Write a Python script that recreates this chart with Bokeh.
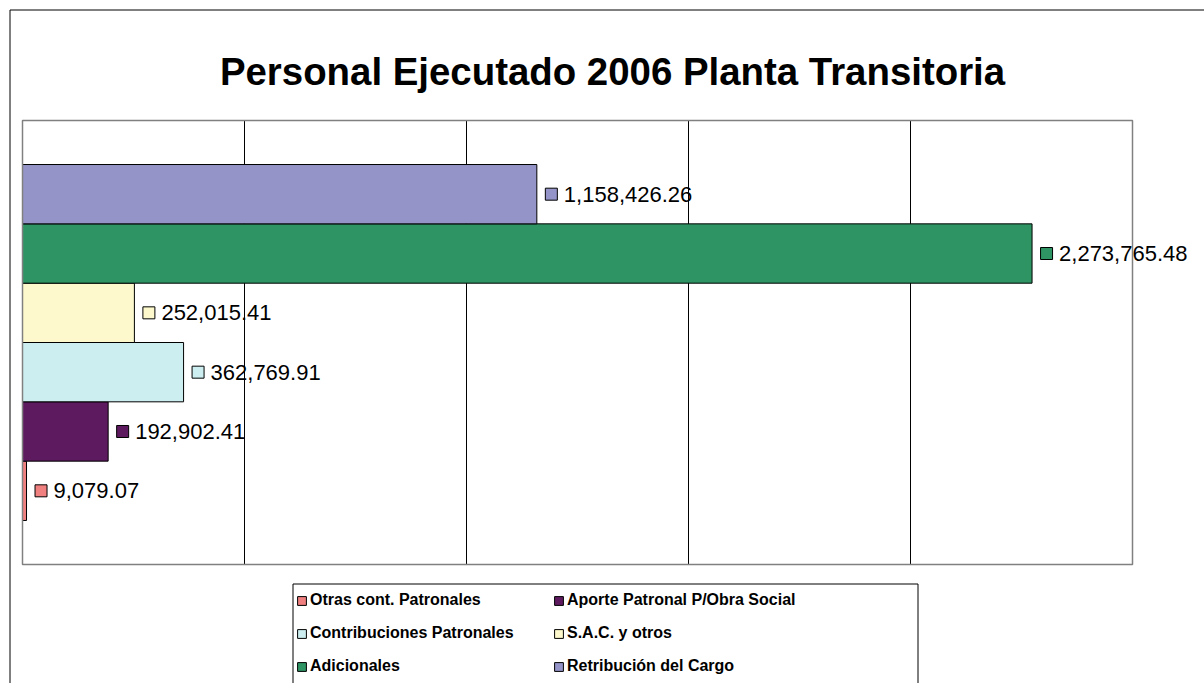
from bokeh.plotting import figure
from bokeh.models import (ColumnDataSource, LabelSet, Label, Legend, LegendItem,
                          BoxAnnotation, Range1d)
from bokeh.core.properties import value
from bokeh.transform import dodge
from bokeh.embed import file_html
from bokeh.resources import INLINE

# ---- data ----
chart_title = "Personal Ejecutado 2006 Planta Transitoria"
series = ["Otras cont. Patronales", "Aporte Patronal P/Obra Social",
          "Contribuciones Patronales", "S.A.C. y otros",
          "Adicionales", "Retribución del Cargo"]
values = [9079.07, 192902.41, 362769.91, 252015.41, 2273765.48, 1158426.26]
colors = ["#F08080", "#5E1A5E", "#CCEEF0", "#FDF9CC", "#2E9464", "#9494C8"]
x_ticks = [0, 500000, 1000000, 1500000, 2000000, 2500000]

labels = [f"{v:,.2f}" for v in values]
positions = list(range(len(series)))

# ---- layout constants (pixels) ----
FONT = "Liberation Sans"
W, H = 1204, 683
PLOT_L, PLOT_R, PLOT_T, PLOT_B = 22, 1132, 120, 564
BAR_PAD = 0.742                      # empty space above/below the bars (bar units)

x_end = x_ticks[-1]
px_x = x_end / (PLOT_R - PLOT_L)     # data units per pixel (x)
y_lo = -0.5 - BAR_PAD
y_hi = len(series) - 0.5 + BAR_PAD
px_y = (y_hi - y_lo) / (PLOT_B - PLOT_T)

x_range = Range1d(-PLOT_L * px_x, x_end + (W - PLOT_R) * px_x)
y_range = Range1d(y_lo - (H - PLOT_B) * px_y, y_hi + PLOT_T * px_y)

src = ColumnDataSource(dict(pos=positions, value=values, color=colors,
                            label=labels, name=series))

p = figure(width=W, height=H, x_range=x_range, y_range=y_range,
           x_axis_type=None, y_axis_type=None,
           toolbar_location=None, output_backend="svg",
           min_border=0, min_border_left=0, min_border_right=0,
           min_border_top=0, min_border_bottom=0)
p.outline_line_color = None
p.background_fill_color = "white"
p.border_fill_color = "white"

# vertical gridlines inside the plot area
grid_x = x_ticks[1:-1]
p.segment(x0=grid_x, x1=grid_x, y0=[y_lo] * len(grid_x), y1=[y_hi] * len(grid_x),
          line_color="black", line_width=1)

bars = p.hbar(y="pos", left=0, right="value", height=1, source=src,
              fill_color="color", line_color="black", line_width=1)

# plot-area border
p.add_layout(BoxAnnotation(left=0, right=x_end, bottom=y_lo, top=y_hi,
                           fill_alpha=0, line_color="#808080", line_alpha=1,
                           line_width=1.5))

p.scatter(x=dodge("value", 14.5 * px_x), y="pos", source=src,
          marker="square", size=12, fill_color="color",
          line_color="black", line_width=1)

p.add_layout(LabelSet(x="value", y="pos", text="label", source=src,
                      x_offset=27, text_baseline="middle",
                      text_font=value(FONT), text_font_size="22px",
                      text_color="black"))

# title
p.add_layout(Label(x=612, y=71, x_units="canvas", y_units="canvas",
                   text=chart_title, text_align="center",
                   text_baseline="alphabetic", text_font=FONT,
                   text_font_size="38.4px", text_font_style="bold",
                   text_color="black"))

# outer chart border (only left/top visible in window)
p.add_layout(BoxAnnotation(left=9.5, right=3000, top=9.5, bottom=3000,
                           left_units="canvas", right_units="canvas",
                           top_units="canvas", bottom_units="canvas",
                           fill_alpha=0, line_color="black", line_alpha=1,
                           line_width=1))
# legend box
p.add_layout(BoxAnnotation(left=292.5, right=917.5, top=583.5, bottom=760,
                           left_units="canvas", right_units="canvas",
                           top_units="canvas", bottom_units="canvas",
                           fill_alpha=0, line_color="black", line_alpha=1,
                           line_width=1))

items = [LegendItem(label=series[i], renderers=[bars], index=i) for i in positions]
legend = Legend(items=items, ncols=2, orientation="horizontal",
                location=(289, 0),
                glyph_width=11, glyph_height=11, label_standoff=3,
                label_height=20, label_width=230, spacing=13,
                padding=7, margin=0,
                border_line_alpha=0, background_fill_alpha=0,
                label_text_font=FONT, label_text_font_size="16px",
                label_text_font_style="bold", label_text_color="black")
p.add_layout(legend, "center")

open("out.html", "w").write(file_html(p, INLINE))
